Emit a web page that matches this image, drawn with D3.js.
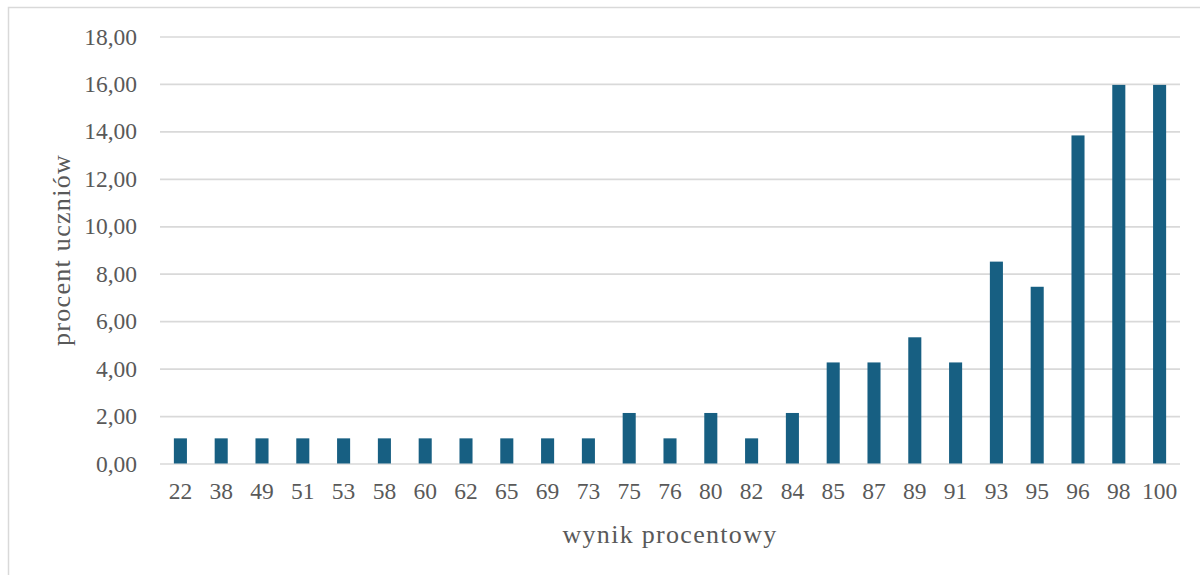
<!DOCTYPE html>
<html><head><meta charset="utf-8">
<script src="https://cdn.jsdelivr.net/npm/d3@7"></script>
<style>body{margin:0;background:#fff}svg{display:block}text{font-family:"Liberation Serif","DejaVu Serif",serif;fill:#595959}</style>
</head><body><svg id="c" width="1200" height="575"></svg>
<script>
const categories = ["22","38","49","51","53","58","60","62","65","69","73","75","76","80","82","84","85","87","89","91","93","95","96","98","100"];
const values = [1.06,1.06,1.06,1.06,1.06,1.06,1.06,1.06,1.06,1.06,1.06,2.13,1.06,2.13,1.06,2.13,4.26,4.26,5.32,4.26,8.51,7.45,13.83,15.96,15.96];
const yTicks = [0,2,4,6,8,10,12,14,16,18];
const xTitle = "wynik procentowy";
const yTitle = "procent uczniów";

const svg = d3.select("#c");
const m = {left:160, right:1180, top:36.5, bottom:463.5};
svg.append("rect").attr("x",8.5).attr("y",7.5).attr("width",1300).attr("height",700)
  .attr("fill","none").attr("stroke","#d9d9d9").attr("stroke-width",1.5);

const x = d3.scaleBand().domain(categories).range([m.left,m.right]).paddingInner(0.68).paddingOuter(0.34);
const y = d3.scaleLinear().domain([0,18]).range([m.bottom,m.top]);

const yAxis = svg.append("g").attr("transform",`translate(${m.left},0)`)
  .call(d3.axisLeft(y).tickValues(yTicks).tickSize(-(m.right-m.left)).tickPadding(23)
    .tickFormat(d=>d3.format(".2f")(d).replace(".",",")));
yAxis.select(".domain").remove();
yAxis.selectAll("line").attr("stroke","#d9d9d9").attr("stroke-width",1.7);
yAxis.selectAll("text").attr("font-size",23.5).attr("fill","#595959").style("font-family",'"Liberation Serif",serif');

svg.append("g").selectAll("rect").data(values).join("rect")
  .attr("x",(d,i)=>x(categories[i])).attr("width",x.bandwidth())
  .attr("y",d=>y(d)).attr("height",d=>y(0)-y(d)).attr("fill","#175f82");

const xAxis = svg.append("g").attr("transform",`translate(0,${m.bottom})`)
  .call(d3.axisBottom(x).tickSize(0).tickPadding(19));
xAxis.select(".domain").remove();
xAxis.selectAll("text").attr("font-size",23.5).attr("fill","#595959").style("font-family",'"Liberation Serif",serif');

svg.append("text").attr("x",670).attr("y",543).attr("text-anchor","middle")
  .attr("font-size",26).style("letter-spacing","1.3px").text(xTitle);
svg.append("text").attr("transform","translate(70,250) rotate(-90)").attr("text-anchor","middle")
  .attr("font-size",26).style("letter-spacing","1.3px").text(yTitle);
</script></body></html>
